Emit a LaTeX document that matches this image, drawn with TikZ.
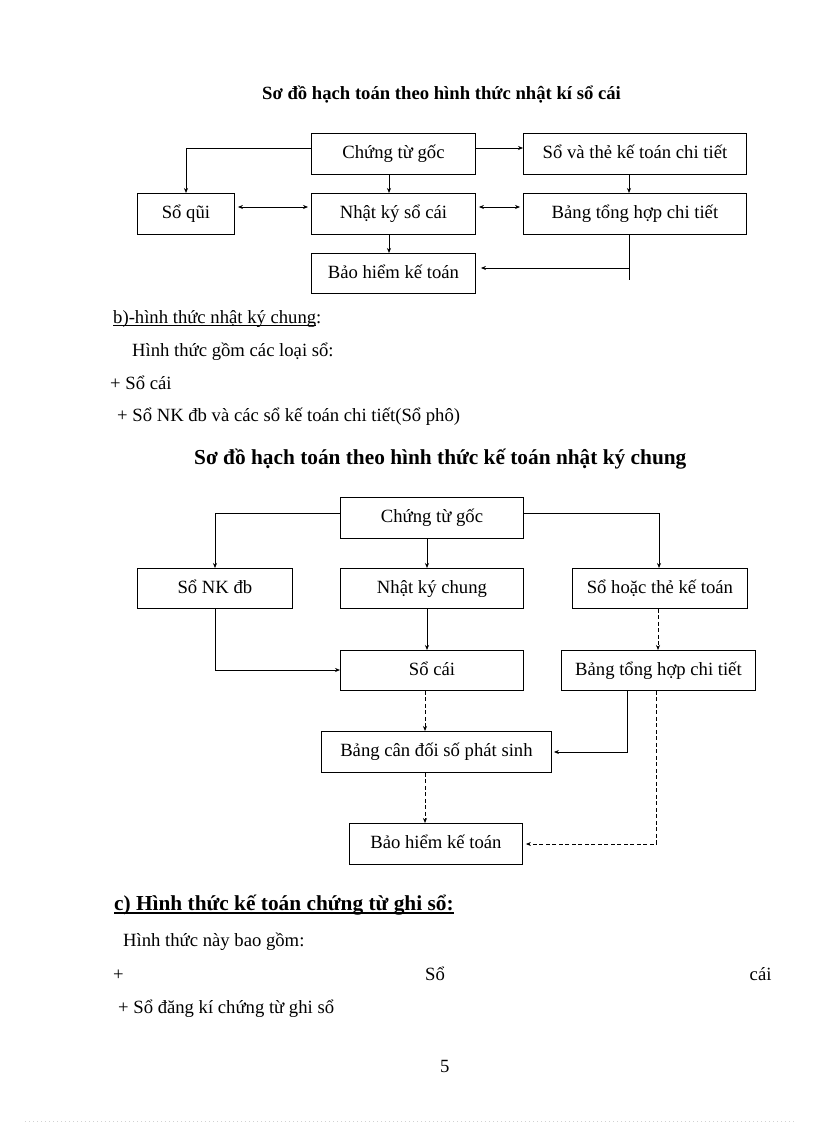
\documentclass[tikz,border=0pt]{standalone}
\usepackage{fontspec}
\setmainfont{Liberation Serif}
\usetikzlibrary{arrows.meta}
\newcommand\fsbody{\fontsize{18.67}{22}\selectfont}
\newcommand\fsbig{\fontsize{21.33}{25}\selectfont}
\begin{document}
\begin{tikzpicture}[x=1pt,y=-1pt,
  box/.style={draw, line width=0.9pt, inner sep=0pt, text height=25pt, text depth=16pt, font=\fsbody, anchor=north west},
  boxs/.style={box, text depth=15pt},
  txt/.style={inner sep=0pt, anchor=base west, font=\fsbody},
  conn/.style={line width=0.7pt},
  arr/.style={conn, -{Stealth[length=5pt,width=4pt]}},
  biarr/.style={conn, {Stealth[length=5pt,width=4pt]}-{Stealth[length=5pt,width=4pt]}, shorten <=3pt, shorten >=3pt},
  dsh/.style={dash pattern=on 4pt off 2.5pt},
  uline/.style={line width=1.1pt}]
\useasboundingbox (0,0) rectangle (816,1123);
\fill[white] (0,0) rectangle (816,1123);

% ---------- Diagram 1 ----------
\node[txt, font=\fsbody\bfseries] (title1) at (262,100) {Sơ đồ hạch toán theo hình thức nhật kí sổ cái};

\node[box, minimum width=164pt] (g1) at (311,133) {Chứng từ gốc};
\node[box, minimum width=223pt] (the1) at (523,133) {Sổ và thẻ kế toán chi tiết};
\node[box, minimum width=97pt] (q1) at (137,193) {Sổ qũi};
\node[box, minimum width=164pt] (nk1) at (311,193) {Nhật ký sổ cái};
\node[box, minimum width=223pt] (th1) at (523,193) {Bảng tổng hợp chi tiết};
\node[boxs, minimum width=164pt] (bh1) at (311,253) {Bảo hiểm kế toán};

\draw[arr] (g1.west |- 0,148) -| (q1.north -| 186,0);
\draw[arr] (g1.east |- 0,148) -- (the1.west |- 0,148);
\draw[arr] (g1.south -| 389,0) -- (nk1.north -| 389,0);
\draw[arr] (the1.south -| 629,0) -- (th1.north -| 629,0);
\draw[biarr] (q1.east |- 0,207) -- (nk1.west |- 0,207);
\draw[biarr] (nk1.east |- 0,207) -- (th1.west |- 0,207);
\draw[arr] (nk1.south -| 389,0) -- (bh1.north -| 389,0);
\coordinate (c1) at (629,280);
\coordinate (c2) at (629,268);
\draw[conn] (th1.south -| 629,0) -- (c1);
\draw[arr, shorten >=5pt] (c2) -- (bh1.east |- c2);

% ---------- Text ----------
\node[txt] (bl) at (113,323) {b)-hình thức nhật ký chung:};
\draw[uline] ([yshift=-2.5pt]bl.base west) -- ([xshift=-6pt,yshift=-2.5pt]bl.base east);
\node[txt] (l2) at (132,356) {Hình thức gồm các loại sổ:};
\node[txt] (l3) at (110,389) {+ Sổ cái};
\node[txt] (l4) at (117,421) {+ Sổ NK đb và các sổ kế toán chi tiết(Sổ phô)};
\node[txt, font=\fsbig\bfseries] (title2) at (194,464) {Sơ đồ hạch toán theo hình thức kế toán nhật ký chung};

% ---------- Diagram 2 ----------
\node[box, minimum width=183pt] (g2) at (340,497) {Chứng từ gốc};
\node[boxs, minimum width=155pt] (nkdb) at (137,568) {Sổ NK đb};
\node[boxs, minimum width=183pt] (nkc) at (340,568) {Nhật ký chung};
\node[boxs, minimum width=175pt] (sht) at (572,568) {Sổ hoặc thẻ kế toán};
\node[boxs, minimum width=183pt] (sc) at (340,650) {Sổ cái};
\node[boxs, minimum width=194pt] (th2) at (561,650) {Bảng tổng hợp chi tiết};
\node[box, minimum width=230pt] (cd) at (321,731) {Bảng cân đối số phát sinh};
\node[box, minimum width=173pt] (bh2) at (349,823) {Bảo hiểm kế toán};

\draw[arr] (g2.west |- 0,513) -| (nkdb.north -| 215,0);
\draw[arr] (g2.east |- 0,513) -| (sht.north -| 659,0);
\draw[arr] (g2.south -| 427,0) -- (nkc.north -| 427,0);
\draw[arr] (nkc.south -| 427,0) -- (sc.north -| 427,0);
\draw[arr] (nkdb.south -| 215,0) |- (sc.west |- 0,670);
\draw[arr, dsh] (sht.south -| 658,0) -- (th2.north -| 658,0);
\draw[arr, dsh] (sc.south -| 425,0) -- (cd.north -| 425,0);
\draw[arr, dsh] (cd.south -| 425,0) -- (bh2.north -| 425,0);
\draw[arr, shorten >=2pt] (th2.south -| 627,0) |- (cd.east |- 0,752);
\draw[arr, dsh, shorten >=3pt] (th2.south -| 656.5,0) |- (bh2.east |- 0,844);

% ---------- Text ----------
\node[txt, font=\fsbig\bfseries] (csec) at (114,910) {c) Hình thức kế toán chứng từ ghi sổ:};
\draw[uline] ([yshift=-3pt]csec.base west) -- ([yshift=-3pt]csec.base east);
\node[txt] (l5) at (123,946) {Hình thức này bao gồm:};
\node[txt] (l6a) at (113,980) {+};
\node[txt] (l6b) at (425,980) {Sổ};
\node[txt] (l6c) at (749.5,980) {cái};
\node[txt] (l7) at (118,1013) {+ Sổ đăng kí chứng từ ghi sổ};
\node[txt] (pg) at (440,1072) {5};

\draw[gray!35, line width=0.6pt, dash pattern=on 1pt off 3pt] (25,1121.5) -- (795,1121.5);
\end{tikzpicture}
\end{document}
